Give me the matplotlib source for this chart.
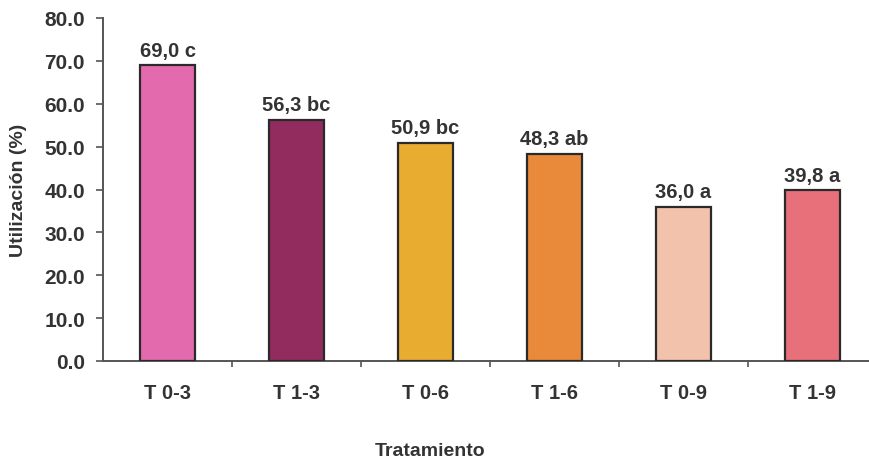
import matplotlib
matplotlib.use("Agg")
import matplotlib.pyplot as plt
import numpy as np

# treatments and utilisation (%)
tratamientos = ["T 0-3", "T 1-3", "T 0-6", "T 1-6", "T 0-9", "T 1-9"]
utilizacion = [69.0, 56.3, 50.9, 48.3, 36.0, 39.8]
letras = ["c", "bc", "bc", "ab", "a", "a"]
colores = ["#E46AAE", "#922C5E", "#E8AC30", "#E88A3A", "#F2C2AC", "#E8707A"]
yticks = [0, 10, 20, 30, 40, 50, 60, 70, 80]

plt.rcParams["font.family"] = ["Liberation Sans", "DejaVu Sans"]
plt.rcParams["font.weight"] = "bold"
ink = "#333333"

fig = plt.figure(figsize=(8.69, 4.60), dpi=100)
ax = fig.add_axes([103 / 869, 98 / 460, 774 / 869, 343 / 460])

x = np.arange(len(tratamientos))
ax.bar(x, utilizacion, width=0.43, color=colores, edgecolor="#2a2a2a",
       linewidth=1.6, zorder=3)

for xi, v, l in zip(x, utilizacion, letras):
    txt = f"{v:.1f}".replace(".", ",") + " " + l
    ax.annotate(txt, (xi, v), xytext=(0, 4), textcoords="offset points",
                ha="center", va="bottom", fontsize=14.5, fontweight="bold",
                color=ink)

ax.set_xlim(-0.5, len(tratamientos) - 0.5)
ax.set_ylim(0, 80)
ax.set_yticks(yticks)
ax.set_yticklabels([f"{t:.1f}" for t in yticks])

ax.set_xticks(x)
ax.set_xticklabels(tratamientos)
ax.set_xticks(np.arange(0.5, len(tratamientos) - 0.5), minor=True)
ax.tick_params(axis="x", which="major", length=0, pad=16, labelsize=14.5,
               labelcolor=ink)
ax.tick_params(axis="x", which="minor", length=4, width=1.2, color="#555555",
               direction="out")
ax.tick_params(axis="y", length=5, width=1.2, color="#555555", pad=8,
               labelsize=15, labelcolor=ink)

for side in ("top", "right"):
    ax.spines[side].set_visible(False)
for side in ("left", "bottom"):
    ax.spines[side].set_color("#555555")
    ax.spines[side].set_linewidth(1.4)

fig.text(430 / 869, 1 - 452 / 460, "Tratamiento", ha="center", va="center",
         fontsize=14, fontweight="bold", color=ink)
fig.text(19 / 869, 1 - 190 / 460, "Utilización (%)", ha="center", va="center",
         rotation=90, fontsize=14, fontweight="bold", color=ink)

fig.savefig("out.png", dpi=100)
